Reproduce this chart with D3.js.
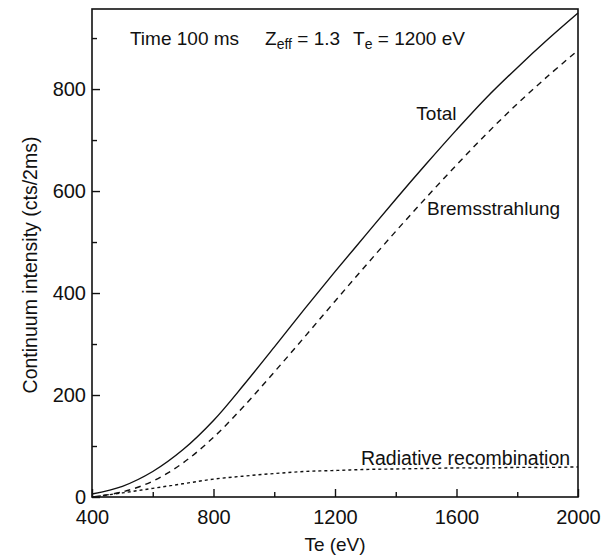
<!DOCTYPE html>
<html>
<head>
<meta charset="utf-8">
<script src="https://cdn.jsdelivr.net/npm/d3@7"></script>
<style>
    body { margin: 0; background: #fff; }
    text { font-family: "Liberation Sans", Arial, Helvetica, sans-serif; fill: #111; }
</style>
</head>
<body>
<div id="chart"></div>
<script>
// Electron temperature (eV)
const te = [400, 500, 600, 700, 800, 900, 1000, 1100, 1200, 1300, 1400, 1500, 1600, 1700, 1800, 1900, 2000];
// Continuum intensity (cts/2ms)
const total = [6, 21, 50, 93, 150, 220, 294, 369, 442, 513, 584, 653, 720, 784, 842, 897, 949];
const bremsstrahlung = [0, 10, 31, 67, 117, 178, 245, 314, 384, 453, 521, 587, 651, 713, 771, 825, 876];
const radiative = [0, 8, 17, 26, 35, 41, 46, 50, 52, 54, 55, 56, 57, 57, 58, 58, 59];

const xMajorTicks = [400, 800, 1200, 1600, 2000];
const xMinorTicks = [600, 1000, 1400, 1800];
const yMajorTicks = [0, 200, 400, 600, 800];
const yMinorTicks = [100, 300, 500, 700, 900];

let width = 608, height = 558;
let margin = {top: 9, right: 30, bottom: 61, left: 92};

let svg = d3.select("#chart").append("svg")
    .attr("width", width)
    .attr("height", height);

let x = d3.scaleLinear()
    .domain([400, 2000])
    .range([margin.left, width - margin.right]);

let y = d3.scaleLinear()
    .domain([0, 957])
    .range([height - margin.bottom, margin.top]);

// frame
svg.append("rect")
    .attr("x", x(400))
    .attr("y", y(957))
    .attr("width", x(2000) - x(400))
    .attr("height", y(0) - y(957))
    .attr("fill", "none")
    .attr("stroke", "#111")
    .attr("stroke-width", 1.6);

// axes, ticks pointing inward
let fmt = d3.format("d");
let xAxis = d3.axisBottom(x).tickValues(xMajorTicks).tickFormat(fmt).tickSizeInner(-8).tickSizeOuter(0).tickPadding(13);
let xMinor = d3.axisBottom(x).tickValues(xMinorTicks).tickSizeInner(-5).tickSizeOuter(0).tickFormat("");
let yAxis = d3.axisLeft(y).tickValues(yMajorTicks).tickFormat(fmt).tickSizeInner(-8).tickSizeOuter(0).tickPadding(6);
let yMinor = d3.axisLeft(y).tickValues(yMinorTicks).tickSizeInner(-5).tickSizeOuter(0).tickFormat("");

[[xAxis, "x"], [xMinor, "x"], [yAxis, "y"], [yMinor, "y"]].forEach(([ax, k]) => {
    let g = svg.append("g")
        .attr("transform", k === "x" ? `translate(0, ${y(0)})` : `translate(${x(400)}, 0)`)
        .call(ax);
    g.select(".domain").remove();
    g.selectAll("line").attr("stroke", "#111").attr("stroke-width", 1.4);
    g.selectAll("text").style("font-size", "20px").attr("fill", "#111");
});

// axis titles
svg.append("text")
    .attr("x", x(1200))
    .attr("y", 551)
    .attr("text-anchor", "middle")
    .style("font-size", "19px")
    .text("Te (eV)");

svg.append("text")
    .attr("transform", `translate(37, ${y(455)}) rotate(-90)`)
    .attr("text-anchor", "middle")
    .style("font-size", "19.5px")
    .text("Continuum intensity (cts/2ms)");

// curves
let line = d3.line()
    .x((d, i) => x(te[i]))
    .y(d => y(d))
    .curve(d3.curveCatmullRom);

let series = [
    {values: total, dash: null},
    {values: bremsstrahlung, dash: "6,5"},
    {values: radiative, dash: "3,3"}
];

series.forEach(s => {
    svg.append("path")
        .datum(s.values)
        .attr("d", line)
        .attr("fill", "none")
        .attr("stroke", "#111")
        .attr("stroke-width", 1.4)
        .attr("stroke-dasharray", s.dash);
});

// curve labels
svg.append("text")
    .attr("x", x(1600)).attr("y", y(740))
    .attr("text-anchor", "end")
    .style("font-size", "19px")
    .text("Total");

svg.append("text")
    .attr("x", x(1503)).attr("y", y(553))
    .style("font-size", "19px")
    .text("Bremsstrahlung");

svg.append("text")
    .attr("x", x(1974)).attr("y", y(63))
    .attr("text-anchor", "end")
    .style("font-size", "19.5px")
    .text("Radiative recombination");

// header annotation
let note = svg.append("text")
    .attr("x", x(525)).attr("y", y(886))
    .style("font-size", "19px");
note.append("tspan").text("Time 100 ms");
note.append("tspan").attr("dx", 26).text("Z");
note.append("tspan").attr("dy", 4).style("font-size", "14px").text("eff");
note.append("tspan").attr("dy", -4).text(" = 1.3");
note.append("tspan").attr("dx", 13).text("T");
note.append("tspan").attr("dy", 4).style("font-size", "14px").text("e");
note.append("tspan").attr("dy", -4).text(" = 1200 eV");
</script>
</body>
</html>
